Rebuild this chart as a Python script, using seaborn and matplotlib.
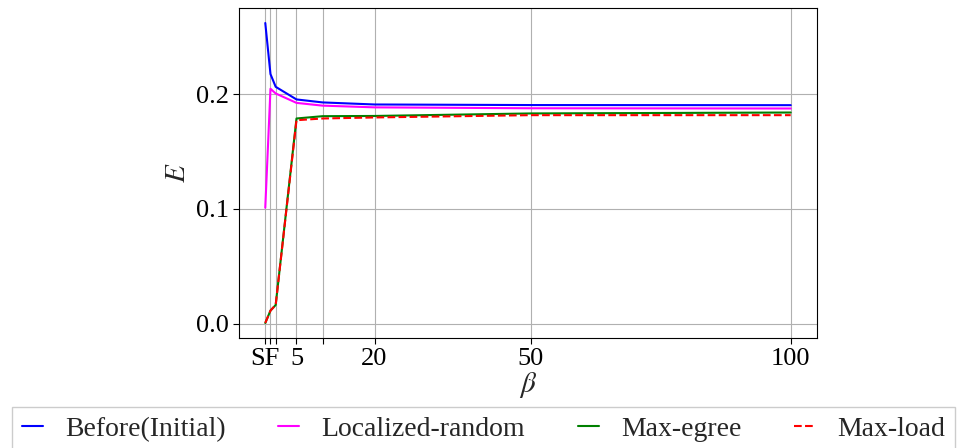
import matplotlib
matplotlib.use("Agg")
import matplotlib.pyplot as plt
import seaborn as sns
import pandas as pd

# beta values; -1 stands for the scale-free ("SF") reference point
beta = [-1, 0, 1, 5, 10, 20, 50, 100]
before_initial = [0.262, 0.2175, 0.2064, 0.1954, 0.1928, 0.1910, 0.1905, 0.1904]
localized_random = [0.101, 0.2047, 0.2006, 0.1924, 0.1900, 0.1885, 0.1877, 0.1875]
max_egree = [0.0006, 0.0114, 0.0163, 0.1788, 0.1808, 0.1810, 0.1832, 0.1840]
max_load = [0.0006, 0.0114, 0.0163, 0.1773, 0.1788, 0.1797, 0.1817, 0.1817]

xtick_pos = [-1, 0, 1, 5, 10, 20, 50, 100]
xtick_labels = ["SF", "", "", "5", "", "20", "50", "100"]
ytick_pos = [0.0, 0.1, 0.2]

series = [
    ("Before(Initial)", before_initial, "blue", "-"),
    ("Localized-random", localized_random, "magenta", "-"),
    ("Max-egree", max_egree, "green", "-"),
    ("Max-load", max_load, "red", "--"),
]

sns.set_style("ticks")
plt.rcParams["font.family"] = ["Liberation Serif", "DejaVu Serif"]
plt.rcParams["mathtext.fontset"] = "stix"

fig = plt.figure(figsize=(9.58, 4.48), dpi=100)
ax = fig.add_axes([239 / 958, 1 - 338 / 448, (817 - 239) / 958, (338 - 8) / 448])

for name, vals, color, ls in series:
    df = pd.DataFrame({"beta": beta, "E": vals})
    sns.lineplot(data=df, x="beta", y="E", ax=ax, color=color, linestyle=ls,
                 linewidth=1.5, label=name, legend=False)

ax.set_xticks(xtick_pos)
ax.set_xticklabels(xtick_labels)
ax.set_yticks(ytick_pos)
ax.set_yticklabels(["0.0", "0.1", "0.2"])
ax.tick_params(labelsize=19, length=4, width=0.8, colors="black", pad=3)
ax.grid(True, color="#b0b0b0", linewidth=0.8)
for s in ax.spines.values():
    s.set_visible(True)
    s.set_color("black")
    s.set_linewidth(0.8)

ax.set_xlabel(r"$\beta$", fontsize=21, labelpad=0)
ax.set_ylabel(r"$E$", fontsize=21, labelpad=4)

handles, labels = ax.get_legend_handles_labels()
fig.legend(handles, labels, loc="upper left",
           bbox_to_anchor=(12 / 958, 1 - 407 / 448, 943 / 958, 0.0),
           mode="expand", ncol=4, fontsize=20, handlelength=0.75,
           handletextpad=0.8, borderaxespad=0.0, borderpad=0.35,
           fancybox=False, edgecolor="#cccccc", framealpha=1.0)

fig.savefig("out.png", dpi=100)
